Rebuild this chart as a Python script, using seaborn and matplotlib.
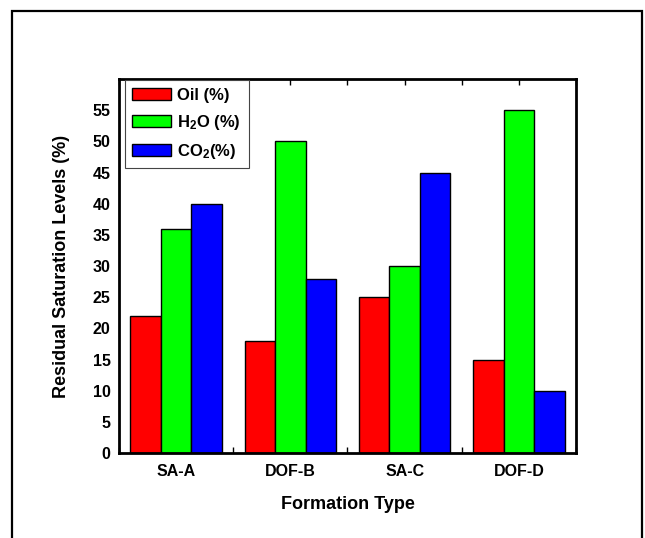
import matplotlib
matplotlib.use('Agg')
import matplotlib.pyplot as plt
import seaborn as sns
import pandas as pd
from matplotlib.patches import Rectangle
from matplotlib.ticker import MultipleLocator

# Data
formations = ['SA-A', 'DOF-B', 'SA-C', 'DOF-D']
oil = [22, 18, 25, 15]
h2o = [36, 50, 30, 55]
co2 = [40, 28, 45, 10]
series_labels = ['Oil (%)', r'H$_2$O (%)', r'CO$_2$(%)']
colors = ['#FF0000', '#00FF00', '#0000FF']

df = pd.DataFrame({
    'Formation': formations * 3,
    'Value': oil + h2o + co2,
    'Series': [series_labels[0]] * 4 + [series_labels[1]] * 4 + [series_labels[2]] * 4,
})

sns.set_style('ticks')
plt.rcParams['font.family'] = ['Liberation Sans', 'DejaVu Sans']
plt.rcParams['font.weight'] = 'bold'
plt.rcParams['text.color'] = 'black'
plt.rcParams['axes.labelcolor'] = 'black'
plt.rcParams['xtick.color'] = 'black'
plt.rcParams['ytick.color'] = 'black'
plt.rcParams['mathtext.fontset'] = 'custom'
plt.rcParams['mathtext.rm'] = 'Liberation Sans:bold'
plt.rcParams['mathtext.default'] = 'rm'

fig = plt.figure(figsize=(6.45, 5.38), dpi=100)
ax = fig.add_axes([0.1845, 0.158, 0.7085, 0.695])

sns.barplot(data=df, x='Formation', y='Value', hue='Series', palette=colors,
            saturation=1, edgecolor='black', linewidth=1, width=0.8, ax=ax,
            errorbar=None)

ax.set_ylim(0, 60)
ax.set_xlim(-0.5, 3.5)
ax.set_yticks(range(0, 60, 5))
ax.xaxis.set_minor_locator(MultipleLocator(0.5))
ax.tick_params(axis='both', which='both', direction='in', top=True, right=False,
               labelsize=11.5, width=1, colors='black')
ax.tick_params(axis='x', which='major', length=4, pad=8)
ax.tick_params(axis='x', which='minor', length=4)
ax.tick_params(axis='y', length=0, pad=6)
for lab in ax.get_xticklabels() + ax.get_yticklabels():
    lab.set_fontweight('bold')
for sp in ax.spines.values():
    sp.set_linewidth(2)
    sp.set_color('black')

ax.set_xlabel('Formation Type', fontsize=13, fontweight='bold', labelpad=12)
ax.set_ylabel('Residual Saturation Levels (%)', fontsize=13, fontweight='bold', labelpad=16)

leg = ax.legend(loc='upper left', bbox_to_anchor=(0.013, 0.997), borderaxespad=0,
                fancybox=False, framealpha=1, edgecolor='#444444',
                prop={'weight': 'bold', 'size': 12},
                handlelength=2.3, handleheight=0.8, handletextpad=0.4,
                labelspacing=0.6, borderpad=0.45)
leg.get_frame().set_linewidth(0.8)

# outer frame
fig.patches.append(Rectangle((12 / 645, -0.05), 630 / 645, 1.05 - 11 / 538,
                             transform=fig.transFigure, fill=False,
                             edgecolor='black', linewidth=1.6))

fig.savefig('out.png', dpi=100)
